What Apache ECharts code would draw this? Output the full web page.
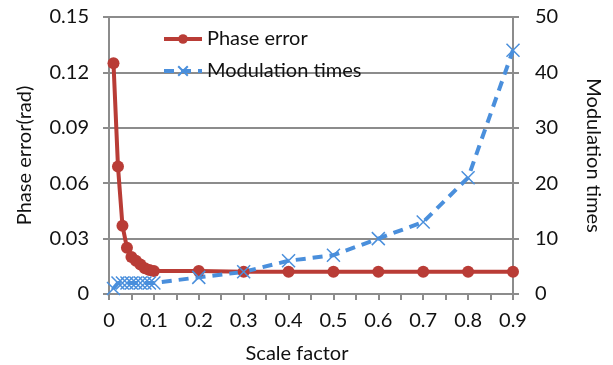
<!DOCTYPE html>
<html>
<head>
<meta charset="utf-8">
<script src="https://cdn.jsdelivr.net/npm/echarts@6/dist/echarts.min.js"></script>
<style>
  html, body { margin: 0; padding: 0; background: #fff; }
  #chart { width: 613px; height: 365px; }
</style>
</head>
<body>
<div id="chart"></div>
<script>
// Scale factor samples (x)
const scaleFactor = [0.01, 0.02, 0.03, 0.04, 0.05, 0.06, 0.07, 0.08, 0.09, 0.1, 0.2, 0.3, 0.4, 0.5, 0.6, 0.7, 0.8, 0.9];
// Phase error in rad (left axis)
const phaseError = [0.125, 0.069, 0.037, 0.025, 0.020, 0.018, 0.016, 0.014, 0.013, 0.0125, 0.0125, 0.012, 0.012, 0.012, 0.012, 0.012, 0.012, 0.012];
// Number of modulations (right axis)
const modulationTimes = [1, 2, 2, 2, 2, 2, 2, 2, 2, 2, 3, 4, 6, 7, 10, 13, 21, 44];

const FONT = 'Lato';
const FS = 20;
const GRID_GRAY = '#8c8c8c';
const RED = '#b93c36';
const BLUE = '#4a8fdc';

const pairs = (xs, ys) => xs.map((x, i) => [x, ys[i]]);

const chart = echarts.init(document.getElementById('chart'), null, { renderer: 'canvas' });

const axisText = { fontFamily: FONT, fontSize: FS, color: '#111' };

chart.setOption({
  animation: false,
  backgroundColor: '#fff',
  textStyle: { fontFamily: FONT },
  grid: { left: 109, right: 100, top: 17, bottom: 71, containLabel: false, outerBoundsMode: 'none' },
  legend: {
    orient: 'vertical',
    left: 157,
    top: 24,
    itemGap: 12,
    itemWidth: 38,
    itemHeight: 12,
    lineStyle: { width: 4 },
    textStyle: { fontFamily: FONT, fontSize: FS, color: '#111' },
    data: ['Phase error', 'Modulation times']
  },
  xAxis: {
    type: 'value',
    min: 0, max: 0.9, interval: 0.1,
    name: 'Scale factor',
    nameLocation: 'middle',
    nameGap: 50,
    nameTextStyle: Object.assign({ padding: [0, 28, 0, 0] }, axisText),
    axisLine: { show: true, onZero: false, lineStyle: { color: GRID_GRAY, width: 2 } },
    axisTick: { show: true, inside: false, length: 6, lineStyle: { color: GRID_GRAY, width: 2 } },
    minorTick: { show: true, splitNumber: 2, length: 6, lineStyle: { color: GRID_GRAY, width: 2 } },
    axisLabel: Object.assign({ margin: 17 }, axisText),
    splitLine: { show: false }
  },
  yAxis: [
    {
      type: 'value',
      min: 0, max: 0.15, interval: 0.03,
      name: 'Phase error(rad)',
      nameLocation: 'middle',
      nameRotate: 90,
      nameGap: 74,
      nameTextStyle: axisText,
      axisLine: { show: true, lineStyle: { color: GRID_GRAY, width: 2 } },
      axisTick: { show: true, inside: false, length: 6, lineStyle: { color: GRID_GRAY, width: 2 } },
      axisLabel: Object.assign({ margin: 20 }, axisText),
      splitLine: { show: true, lineStyle: { color: GRID_GRAY, width: 2 } }
    },
    {
      type: 'value',
      min: 0, max: 50, interval: 10,
      name: 'Modulation times',
      nameLocation: 'middle',
      nameRotate: -90,
      nameGap: 70,
      nameTextStyle: axisText,
      position: 'right',
      axisLine: { show: true, lineStyle: { color: GRID_GRAY, width: 2 } },
      axisTick: { show: true, inside: false, length: 6, lineStyle: { color: GRID_GRAY, width: 2 } },
      axisLabel: Object.assign({ margin: 22 }, axisText),
      splitLine: { show: false }
    }
  ],
  series: [
    {
      name: 'Phase error',
      type: 'line',
      yAxisIndex: 0,
      data: pairs(scaleFactor, phaseError),
      symbol: 'circle',
      symbolSize: 12,
      lineStyle: { color: RED, width: 4 },
      itemStyle: { color: RED }
    },
    {
      name: 'Modulation times',
      type: 'line',
      yAxisIndex: 1,
      data: pairs(scaleFactor, modulationTimes),
      symbol: 'path://M0,0L10,10M10,0L0,10',
      symbolSize: 13,
      lineStyle: { color: BLUE, width: 4, type: [10, 7] },
      itemStyle: { color: 'none', borderColor: BLUE, borderWidth: 1.5 }
    }
  ]
});
</script>
</body>
</html>
